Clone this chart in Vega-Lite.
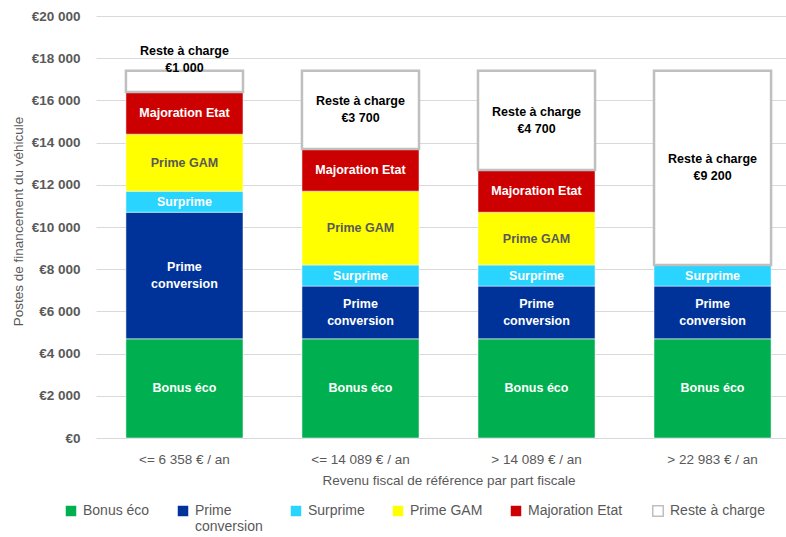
{
  "$schema": "https://vega.github.io/schema/vega-lite/v6.json",
  "autosize": "none",
  "width": 690,
  "height": 422,
  "padding": {"left": 96, "top": 16, "right": 0, "bottom": 99},
  "background": "white",
  "config": {
    "font": "Liberation Sans, Arial, sans-serif",
    "view": {"stroke": null},
    "locale": {"number": {"decimal": ",", "thousands": " ", "grouping": [3], "currency": ["€", ""]}}
  },
  "data": {
    "values": [
      {"cat": "<= 6 358 € / an", "poste": "Bonus éco", "ordre": 1, "montant": 4700, "label": "Bonus éco"},
      {"cat": "<= 6 358 € / an", "poste": "Prime conversion", "ordre": 2, "montant": 6000, "label": "Prime\nconversion"},
      {"cat": "<= 6 358 € / an", "poste": "Surprime", "ordre": 3, "montant": 1000, "label": "Surprime"},
      {"cat": "<= 6 358 € / an", "poste": "Prime GAM", "ordre": 4, "montant": 2700, "label": "Prime GAM"},
      {"cat": "<= 6 358 € / an", "poste": "Majoration Etat", "ordre": 5, "montant": 2000, "label": "Majoration Etat"},
      {"cat": "<= 6 358 € / an", "poste": "Reste à charge", "ordre": 6, "montant": 1000, "label": "Reste à charge\n€1 000"},
      {"cat": "<= 14 089 € / an", "poste": "Bonus éco", "ordre": 1, "montant": 4700, "label": "Bonus éco"},
      {"cat": "<= 14 089 € / an", "poste": "Prime conversion", "ordre": 2, "montant": 2500, "label": "Prime\nconversion"},
      {"cat": "<= 14 089 € / an", "poste": "Surprime", "ordre": 3, "montant": 1000, "label": "Surprime"},
      {"cat": "<= 14 089 € / an", "poste": "Prime GAM", "ordre": 4, "montant": 3500, "label": "Prime GAM"},
      {"cat": "<= 14 089 € / an", "poste": "Majoration Etat", "ordre": 5, "montant": 2000, "label": "Majoration Etat"},
      {"cat": "<= 14 089 € / an", "poste": "Reste à charge", "ordre": 6, "montant": 3700, "label": "Reste à charge\n€3 700"},
      {"cat": "> 14 089 € / an", "poste": "Bonus éco", "ordre": 1, "montant": 4700, "label": "Bonus éco"},
      {"cat": "> 14 089 € / an", "poste": "Prime conversion", "ordre": 2, "montant": 2500, "label": "Prime\nconversion"},
      {"cat": "> 14 089 € / an", "poste": "Surprime", "ordre": 3, "montant": 1000, "label": "Surprime"},
      {"cat": "> 14 089 € / an", "poste": "Prime GAM", "ordre": 4, "montant": 2500, "label": "Prime GAM"},
      {"cat": "> 14 089 € / an", "poste": "Majoration Etat", "ordre": 5, "montant": 2000, "label": "Majoration Etat"},
      {"cat": "> 14 089 € / an", "poste": "Reste à charge", "ordre": 6, "montant": 4700, "label": "Reste à charge\n€4 700"},
      {"cat": "> 22 983 € / an", "poste": "Bonus éco", "ordre": 1, "montant": 4700, "label": "Bonus éco"},
      {"cat": "> 22 983 € / an", "poste": "Prime conversion", "ordre": 2, "montant": 2500, "label": "Prime\nconversion"},
      {"cat": "> 22 983 € / an", "poste": "Surprime", "ordre": 3, "montant": 1000, "label": "Surprime"},
      {"cat": "> 22 983 € / an", "poste": "Reste à charge", "ordre": 6, "montant": 9200, "label": "Reste à charge\n€9 200"}
    ]
  },
  "transform": [
    {"stack": "montant", "groupby": ["cat"], "sort": [{"field": "ordre"}], "as": ["y0", "y1"]},
    {"calculate": "(datum.y0 + datum.y1) / 2", "as": "ymid"}
  ],
  "encoding": {
    "x": {
      "field": "cat", "type": "nominal", "sort": null,
      "scale": {"range": [0, 705], "paddingInner": 0.335, "paddingOuter": 0.17},
      "axis": {
        "title": "Revenu fiscal de référence par part fiscale",
        "labelAngle": 0, "labelFontSize": 13.5, "labelColor": "#595959", "labelPadding": 14,
        "titleFontSize": 13.5, "titleColor": "#595959", "titleFontWeight": "normal", "titlePadding": 8,
        "domain": false, "ticks": false, "grid": false
      }
    }
  },
  "layer": [
    {
      "mark": {"type": "bar"},
      "encoding": {
        "y": {
          "field": "y0", "type": "quantitative",
          "scale": {"domain": [0, 20000], "nice": false},
          "axis": {
            "title": "Postes de financement du véhicule",
            "values": [0, 2000, 4000, 6000, 8000, 10000, 12000, 14000, 16000, 18000, 20000],
            "format": "$,d",
            "labelFontSize": 13.5, "labelFontWeight": "bold", "labelColor": "#595959", "labelPadding": 16,
            "titleFontSize": 13.5, "titleColor": "#595959", "titleFontWeight": "normal",
            "titleX": -78, "titleY": 205, "titleAngle": -90, "titleAlign": "center", "titleBaseline": "middle",
            "domain": false, "ticks": false, "gridColor": "#D9D9D9", "gridWidth": 1.2
          }
        },
        "y2": {"field": "y1"},
        "color": {
          "field": "poste", "type": "nominal",
          "scale": {
            "domain": ["Bonus éco", "Prime conversion", "Surprime", "Prime GAM", "Majoration Etat", "Reste à charge"],
            "range": ["#00B050", "#003399", "#29D4FF", "#FFFF00", "#CC0000", "#FFFFFF"]
          },
          "legend": {
            "title": null, "orient": "none", "legendX": -32, "legendY": 488,
            "direction": "horizontal", "columns": 6, "columnPadding": 26,
            "symbolType": "square", "symbolSize": 110, "symbolOpacity": 1,
            "symbolStrokeColor": "#BFBFBF", "symbolStrokeWidth": 1,
            "labelFontSize": 14, "labelColor": "#595959", "labelOffset": 5, "labelLimit": 200,
            "labelExpr": "datum.label == 'Prime conversion' ? ['Prime', 'conversion'] : [datum.label, ' ']",
            "encode": {
              "symbols": {"enter": {"stroke": {"signal": "datum.value === 'Reste à charge' ? '#BFBFBF' : null"}}, "update": {"stroke": {"signal": "datum.value === 'Reste à charge' ? '#BFBFBF' : null"}, "strokeWidth": {"value": 1.5}}}
            }
          }
        },
        "stroke": {"condition": {"test": "datum.poste === 'Reste à charge'", "value": "#BFBFBF"}, "value": "#FFFFFF"},
        "strokeWidth": {"condition": {"test": "datum.poste === 'Reste à charge'", "value": 2.5}, "value": 0.5}
      }
    },
    {
      "transform": [{"filter": "indexof(datum.label, '\\n') < 0"}],
      "mark": {"type": "text", "fontWeight": "bold", "fontSize": 12.5, "baseline": "middle"},
      "encoding": {
        "y": {"field": "ymid", "type": "quantitative"},
        "text": {"field": "label"},
        "color": {
          "condition": [
            {"test": "datum.poste === 'Prime GAM'", "value": "#595959"}
          ],
          "value": "#FFFFFF"
        }
      }
    },
    {
      "transform": [{"filter": "indexof(datum.label, '\\n') >= 0 && !(datum.poste === 'Reste à charge' && datum.montant < 2000)"}],
      "mark": {"type": "text", "lineBreak": "\n", "fontWeight": "bold", "fontSize": 12.5, "lineHeight": 17, "baseline": "middle", "dy": -8.5},
      "encoding": {
        "y": {"field": "ymid", "type": "quantitative"},
        "text": {"field": "label"},
        "color": {
          "condition": [
            {"test": "datum.poste === 'Reste à charge'", "value": "#000000"}
          ],
          "value": "#FFFFFF"
        }
      }
    },
    {
      "transform": [{"filter": "datum.poste === 'Reste à charge' && datum.montant < 2000"}],
      "mark": {"type": "text", "lineBreak": "\n", "fontWeight": "bold", "fontSize": 12.5, "lineHeight": 17, "baseline": "middle", "dy": -30, "color": "#000000"},
      "encoding": {
        "y": {"field": "ymid", "type": "quantitative"},
        "text": {"field": "label"}
      }
    }
  ]
}
